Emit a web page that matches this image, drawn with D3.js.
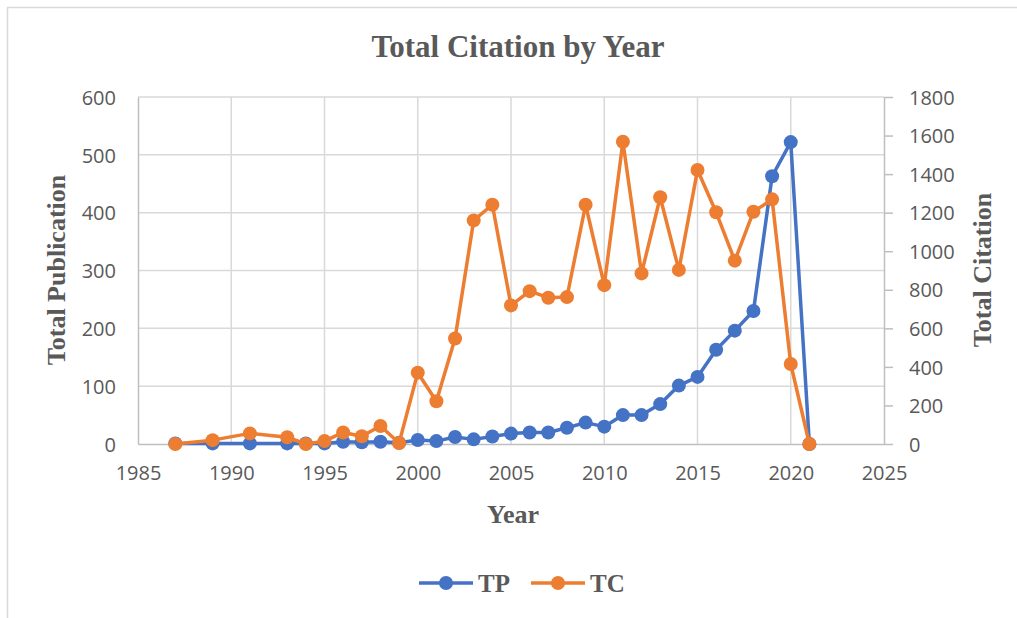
<!DOCTYPE html>
<html lang="en">
<head>
    <meta charset="UTF-8">
    <title>Total Citation by Year</title>
    <script src="https://d3js.org/d3.v7.min.js"></script>
    <style>
        body { margin: 0; background: #fff; }
        .tick text { font: 20px "Open Sans", "Liberation Sans", sans-serif; fill: #595959; }
        .ttl { font-family: "Liberation Serif", "Times New Roman", serif; font-weight: bold; fill: #595959; }
    </style>
</head>
<body>
<script>
    // data
    var years = [1987, 1989, 1991, 1993, 1994, 1995, 1996, 1997, 1998, 1999, 2000, 2001, 2002, 2003, 2004,
                 2005, 2006, 2007, 2008, 2009, 2010, 2011, 2012, 2013, 2014, 2015, 2016, 2017, 2018, 2019, 2020, 2021];
    var tp = [1, 1, 1, 1, 1, 1, 4, 3, 4, 2, 7, 5, 12, 8, 13,
              18, 20, 20, 28, 37, 30, 50, 50, 69, 101, 116, 163, 196, 230, 463, 522, 0];
    var tc = [0, 20, 55, 35, 0, 15, 60, 40, 93, 5, 370, 222, 547, 1160, 1241,
              719, 793, 759, 762, 1241, 824, 1568, 885, 1280, 903, 1421, 1202, 951, 1205, 1269, 415, 0];
    var xTicks = [1985, 1990, 1995, 2000, 2005, 2010, 2015, 2020, 2025];
    var leftTicks = [0, 100, 200, 300, 400, 500, 600];
    var rightTicks = [0, 200, 400, 600, 800, 1000, 1200, 1400, 1600, 1800];

    var W = 1017, H = 618;
    var plotLeft = 138, plotRight = 884, plotTop = 97, plotBottom = 444;

    var svg = d3.select("body").append("svg")
        .attr("width", W)
        .attr("height", H);

    // chart frame
    svg.append("rect")
        .attr("x", 7.5).attr("y", 7.5)
        .attr("width", W + 20).attr("height", H + 20)
        .attr("fill", "none")
        .attr("stroke", "#d9d9d9")
        .attr("stroke-width", 1.5);

    var x = d3.scaleLinear().domain([1985, 2025]).range([plotLeft, plotRight]);
    var yL = d3.scaleLinear().domain([0, 600]).range([plotBottom, plotTop]);
    var yR = d3.scaleLinear().domain([0, 1800]).range([plotBottom, plotTop]);

    // gridlines
    svg.append("g").selectAll("line")
        .data(leftTicks.slice(1))
        .enter().append("line")
        .attr("x1", plotLeft).attr("x2", plotRight)
        .attr("y1", function(d) { return yL(d); })
        .attr("y2", function(d) { return yL(d); })
        .attr("stroke", "#d9d9d9").attr("stroke-width", 1.5);

    svg.append("g").selectAll("line")
        .data(xTicks.slice(1, -1))
        .enter().append("line")
        .attr("x1", function(d) { return x(d); })
        .attr("x2", function(d) { return x(d); })
        .attr("y1", plotTop).attr("y2", plotBottom)
        .attr("stroke", "#d9d9d9").attr("stroke-width", 1.5);

    // axes
    var gx = svg.append("g")
        .attr("transform", "translate(0," + plotBottom + ")")
        .call(d3.axisBottom(x).tickValues(xTicks).tickFormat(d3.format("d")).tickSize(0).tickPadding(22));
    gx.select(".domain").attr("stroke", "#bfbfbf").attr("stroke-width", 1.5);

    var gl = svg.append("g")
        .attr("transform", "translate(" + plotLeft + ",0)")
        .call(d3.axisLeft(yL).tickValues(leftTicks).tickSize(0).tickPadding(22));
    gl.select(".domain").attr("stroke", "#bfbfbf").attr("stroke-width", 1.5);

    var gr = svg.append("g")
        .attr("transform", "translate(" + plotRight + ",0)")
        .call(d3.axisRight(yR).tickValues(rightTicks).tickFormat(d3.format("d"))
            .tickSizeInner(9).tickSizeOuter(0).tickPadding(16));
    gr.select(".domain").attr("stroke", "#bfbfbf").attr("stroke-width", 1.5);
    gr.selectAll(".tick line").attr("stroke", "#bfbfbf").attr("stroke-width", 1.5);
    gl.selectAll(".tick text").attr("dy", "0.36em");
    gr.selectAll(".tick text").attr("dy", "0.36em");

    // series
    var tpData = years.map(function(d, i) { return {year: d, v: tp[i]}; });
    var tcData = years.map(function(d, i) { return {year: d, v: tc[i]}; });

    function drawSeries(data, yScale, color) {
        var line = d3.line()
            .x(function(d) { return x(d.year); })
            .y(function(d) { return yScale(d.v); });
        svg.append("path")
            .datum(data)
            .attr("d", line)
            .attr("fill", "none")
            .attr("stroke", color)
            .attr("stroke-width", 3.5)
            .attr("stroke-linejoin", "round");
        svg.append("g").selectAll("circle")
            .data(data)
            .enter().append("circle")
            .attr("cx", function(d) { return x(d.year); })
            .attr("cy", function(d) { return yScale(d.v); })
            .attr("r", 7)
            .attr("fill", color);
    }
    drawSeries(tpData, yL, "#4472c4");
    drawSeries(tcData, yR, "#ed7d31");

    // titles
    svg.append("text").attr("class", "ttl")
        .attr("x", 518).attr("y", 57)
        .attr("text-anchor", "middle")
        .style("font-size", "31px")
        .text("Total Citation by Year");

    svg.append("text").attr("class", "ttl")
        .attr("x", 513).attr("y", 523)
        .attr("text-anchor", "middle")
        .style("font-size", "26px")
        .text("Year");

    svg.append("text").attr("class", "ttl")
        .attr("transform", "translate(65,270) rotate(-90)")
        .attr("text-anchor", "middle")
        .style("font-size", "26px")
        .text("Total Publication");

    svg.append("text").attr("class", "ttl")
        .attr("transform", "translate(991,270) rotate(-90)")
        .attr("text-anchor", "middle")
        .style("font-size", "26px")
        .text("Total Citation");

    // legend
    var legend = [{name: "TP", color: "#4472c4", x: 419}, {name: "TC", color: "#ed7d31", x: 531}];
    var lg = svg.append("g").selectAll("g")
        .data(legend)
        .enter().append("g")
        .attr("transform", function(d) { return "translate(" + d.x + ",583)"; });
    lg.append("line")
        .attr("x1", 0).attr("x2", 54)
        .attr("stroke", function(d) { return d.color; })
        .attr("stroke-width", 3.5);
    lg.append("circle")
        .attr("cx", 27).attr("r", 7)
        .attr("fill", function(d) { return d.color; });
    lg.append("text").attr("class", "ttl")
        .attr("x", 59).attr("y", 9)
        .style("font-size", "25px")
        .text(function(d) { return d.name; });
</script>
</body>
</html>
